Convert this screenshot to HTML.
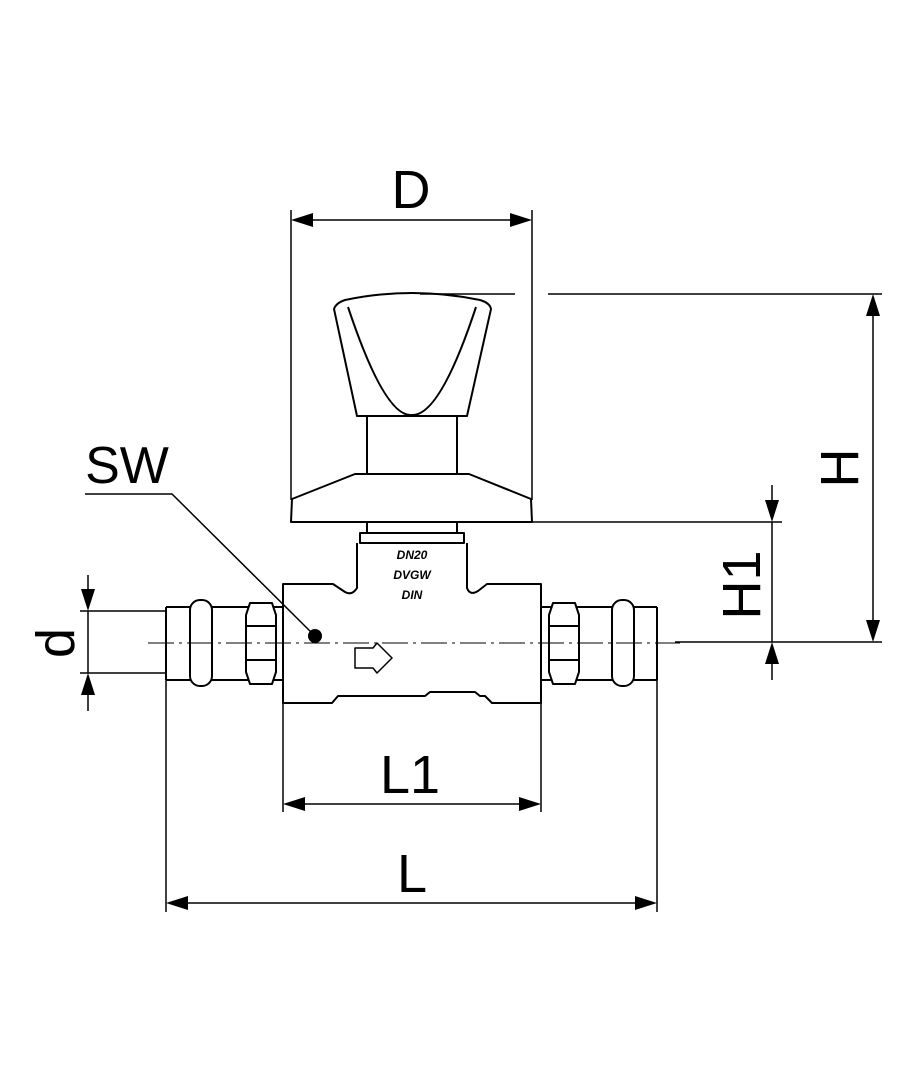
<!DOCTYPE html>
<html><head><style>html,body{margin:0;padding:0;background:#fff}svg{display:block}</style></head>
<body>
<svg width="907" height="1080" viewBox="0 0 907 1080" xmlns="http://www.w3.org/2000/svg">
<g fill="none" stroke="#000" stroke-width="1.5">
<line x1="291" y1="210" x2="291" y2="500"/>
<line x1="532" y1="210" x2="532" y2="500"/>
<line x1="313" y1="220" x2="510" y2="220"/>
<line x1="420" y1="294" x2="515" y2="294"/>
<line x1="548" y1="294" x2="882" y2="294"/>
<line x1="675" y1="642" x2="882" y2="642"/>
<line x1="873" y1="316" x2="873" y2="620"/>
<line x1="532" y1="522" x2="782" y2="522"/>
<line x1="772" y1="485" x2="772" y2="500"/>
<line x1="772" y1="522" x2="772" y2="642"/>
<line x1="772" y1="664" x2="772" y2="680"/>
<line x1="80" y1="611" x2="167" y2="611"/>
<line x1="80" y1="673" x2="167" y2="673"/>
<line x1="88" y1="575" x2="88" y2="589"/>
<line x1="88" y1="611" x2="88" y2="673"/>
<line x1="88" y1="695" x2="88" y2="711"/>
<line x1="283" y1="703" x2="283" y2="812"/>
<line x1="541" y1="703" x2="541" y2="812"/>
<line x1="166" y1="680" x2="166" y2="912"/>
<line x1="657" y1="680" x2="657" y2="912"/>
<line x1="304" y1="804" x2="520" y2="804"/>
<line x1="188" y1="903" x2="635" y2="903"/>
<polyline points="85,494 172,494 315,636"/>
</g>
<g fill="#000">
<path d="M291,220 l22,-7 v14z"/><path d="M532,220 l-22,-7 v14z"/>
<path d="M873,294 l-7,22 h14z"/><path d="M873,642 l-7,-22 h14z"/>
<path d="M772,522 l-7,-22 h14z"/><path d="M772,642 l-7,22 h14z"/>
<path d="M88,611 l-7,-22 h14z"/><path d="M88,673 l-7,22 h14z"/>
<path d="M283,804 l22,-7 v14z"/><path d="M541,804 l-22,-7 v14z"/>
<path d="M166,903 l22,-7 v14z"/><path d="M657,903 l-22,-7 v14z"/>
<circle cx="315" cy="636" r="7"/>
</g>
<g fill="none" stroke="#000" stroke-width="2" stroke-linejoin="round">
<path d="M334,309 Q336,303 345,300 Q412,286 480,300 Q490,303 491,309 L467,416 L357,416 Z"/>
<path d="M348,307 Q385,418 412,415 Q440,416 476,307"/>
<rect x="367" y="416" width="90" height="58"/>
<path d="M355,474 L469,474 L531,499 L532,522 L291,522 L292,499 Z"/>
<rect x="367" y="522" width="90" height="11"/>
<rect x="360" y="533" width="104" height="10"/>
<path d="M357,543 L357,588 Q352,596 345,592 L333,584 L283,584 L283,703 L332,703 L338,696 L425,696 L430,692 L475,692 L480,696 L485,696 L492,703 L541,703 L541,584 L487,584 L478,591 Q470,596 467,588 L467,543"/>
<path d="M166,607 L283,607 M166,680 L283,680 M166,607 L166,680"/>
<rect x="190" y="600" width="22" height="86" rx="10" fill="#fff"/>
<path d="M250,603 L272,603 L276,615 L276,672 L272,684 L250,684 L246,672 L246,615 Z" fill="#fff"/>
<path d="M246,626 L276,626 M246,660 L276,660"/>
<path d="M541,607 L657,607 M541,680 L657,680 M657,607 L657,680"/>
<rect x="612" y="600" width="22" height="86" rx="10" fill="#fff"/>
<path d="M553,603 L575,603 L579,615 L579,672 L575,684 L553,684 L549,672 L549,615 Z" fill="#fff"/>
<path d="M549,626 L579,626 M549,660 L579,660"/>
<path d="M355,648 L373,648 L377,643 L392,658 L377,673 L373,668 L355,668 Z" stroke-width="1.5"/>
</g>
<line x1="148" y1="643" x2="680" y2="643" stroke="#000" stroke-width="1" stroke-dasharray="26,5,3,5"/>
<g font-family="Liberation Sans, sans-serif" fill="#000">
<text x="411" y="208" font-size="54" text-anchor="middle">D</text>
<text x="127" y="483" font-size="52" text-anchor="middle">SW</text>
<text x="410" y="793" font-size="54" text-anchor="middle">L1</text>
<text x="412" y="892" font-size="54" text-anchor="middle">L</text>
<text transform="translate(858,468) rotate(-90)" font-size="54" text-anchor="middle">H</text>
<text transform="translate(760,585) rotate(-90)" font-size="54" text-anchor="middle">H1</text>
<text transform="translate(74,643) rotate(-90)" font-size="54" text-anchor="middle">d</text>
<g font-size="12" font-style="italic" font-weight="bold" text-anchor="middle">
<text x="412" y="559">DN20</text>
<text x="412" y="579">DVGW</text>
<text x="412" y="599">DIN</text>
</g>
</g>
</svg>
</body></html>
